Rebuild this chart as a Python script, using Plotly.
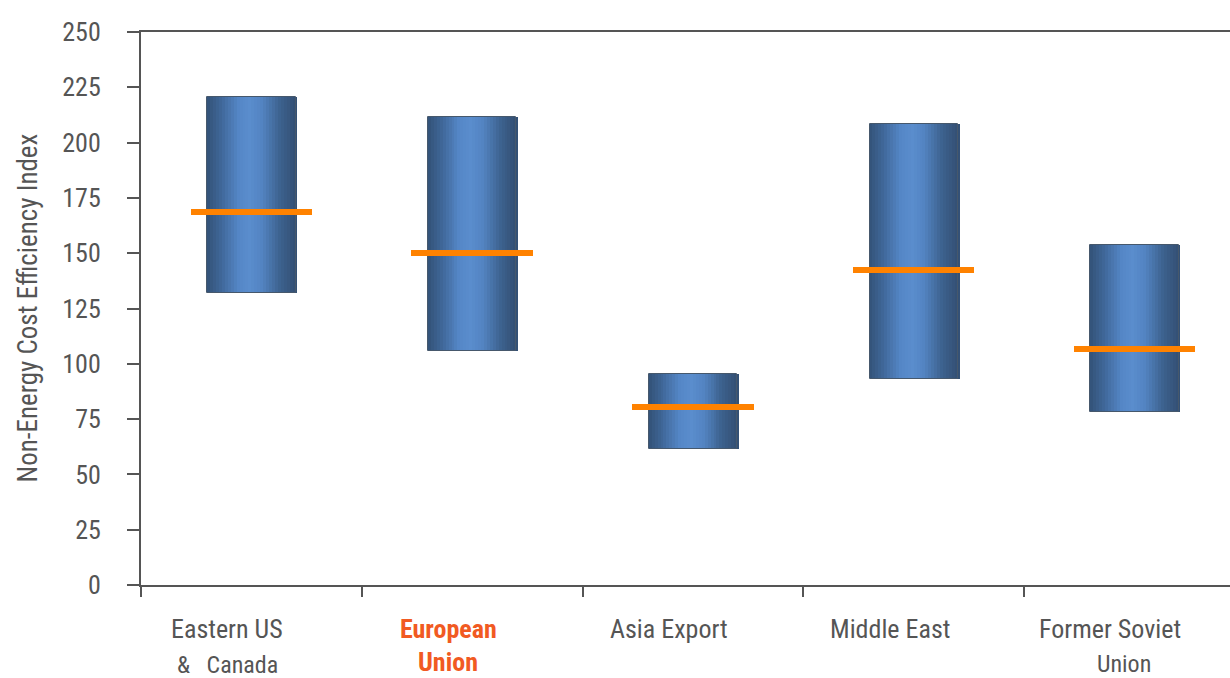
import numpy as np
import plotly.graph_objects as go

# ---- data ----
categories = ["Eastern US & Canada", "European Union", "Asia Export", "Middle East", "Former Soviet Union"]
label_line1 = ["Eastern US", "<b>European</b>", "Asia Export", "Middle East", "Former Soviet"]
label_line2 = ["&amp;   Canada", "<b>Union</b>", "", "", "Union"]
low_values = [132, 106, 61.5, 93, 78]
high_values = [220.5, 211.5, 95.5, 208.5, 153.5]
mid_values = [168.5, 150, 80.5, 142.5, 106.5]
y_ticks = [0, 25, 50, 75, 100, 125, 150, 175, 200, 225, 250]

FONT = "Liberation Sans Narrow, Arial Narrow, Roboto Condensed, Roboto, sans-serif"
GREY = "#555555"

fig = go.Figure()

# gradient bars built from vertical strips
bar_w = 0.40
n_strips = 30
stops_t = [0.0, 0.15, 0.35, 0.48, 0.62, 0.82, 1.0]
stops_c = np.array([
    [0x33, 0x52, 0x77],
    [0x3f, 0x66, 0x97],
    [0x54, 0x86, 0xc6],
    [0x5a, 0x8d, 0xcd],
    [0x53, 0x84, 0xc2],
    [0x3d, 0x62, 0x8f],
    [0x33, 0x4f, 0x73],
])
heights = [h - l for h, l in zip(high_values, low_values)]
sw = bar_w / n_strips
for i in range(n_strips):
    t = (i + 0.5) / n_strips
    rgb = [int(round(np.interp(t, stops_t, stops_c[:, k]))) for k in range(3)]
    fig.add_trace(go.Bar(
        x=categories, y=heights, base=low_values,
        width=sw * 1.6, offset=-bar_w / 2 + i * sw,
        marker=dict(color="rgb(%d,%d,%d)" % tuple(rgb), line=dict(width=0)),
        showlegend=False, hoverinfo="skip",
    ))
# outline
fig.add_trace(go.Bar(
    x=categories, y=heights, base=low_values, width=bar_w,
    marker=dict(color="rgba(0,0,0,0)", line=dict(color="#46586c", width=1)),
    showlegend=False, hoverinfo="skip",
))
# median / mid lines
thick = 2.7
fig.add_trace(go.Bar(
    x=categories, y=[thick] * len(mid_values), base=[m - thick / 2 for m in mid_values],
    width=0.55, marker=dict(color="#FF8200", line=dict(width=0)),
    showlegend=False, hoverinfo="skip",
))

# category labels
for i, c in enumerate(categories):
    col = "#F15A22" if i == 1 else GREY
    fig.add_annotation(x=c, xref="x", y=0, yref="paper", text=label_line1[i],
                       showarrow=False, xanchor="center", yanchor="middle",
                       xshift=-24, yshift=-44,
                       font=dict(family=FONT, size=26, color=col))
    if label_line2[i]:
        ys = -77 if i == 1 else (-79 if i == 4 else -80)
        xs = -24 if i != 4 else -10
        fig.add_annotation(x=c, xref="x", y=0, yref="paper", text=label_line2[i],
                           showarrow=False, xanchor="center", yanchor="middle",
                           xshift=xs, yshift=ys,
                           font=dict(family=FONT, size=26 if i == 1 else 24, color=col))

fig.add_annotation(x=0, xref="paper", xshift=-114, y=0.5, yref="paper",
                   text="Non-Energy Cost Efficiency Index", textangle=-90,
                   showarrow=False, xanchor="center", yanchor="middle",
                   font=dict(family=FONT, size=27, color=GREY))

fig.update_layout(
    width=1230, height=678,
    margin=dict(l=141, r=0, t=32, b=93),
    paper_bgcolor="white", plot_bgcolor="white",
    barmode="overlay", bargap=0,
    showlegend=False,
    font=dict(family=FONT, color=GREY),
)
fig.update_xaxes(
    type="category", categoryorder="array", categoryarray=categories,
    range=[-0.5, 4.433], showticklabels=False,
    tickson="boundaries", ticks="outside", ticklen=10, tickwidth=2, tickcolor=GREY,
    showline=True, linecolor=GREY, linewidth=2, mirror=True,
    showgrid=False, zeroline=False,
)
fig.update_yaxes(
    range=[0, 250], tickvals=y_ticks, ticktext=[str(v) for v in y_ticks],
    ticks="outside", ticklen=12, tickwidth=2, tickcolor=GREY,
    ticklabelstandoff=21,
    tickfont=dict(family=FONT, size=26, color=GREY),
    showline=True, linecolor=GREY, linewidth=2,
    showgrid=False, zeroline=False,
)

fig.write_html("out.html")
